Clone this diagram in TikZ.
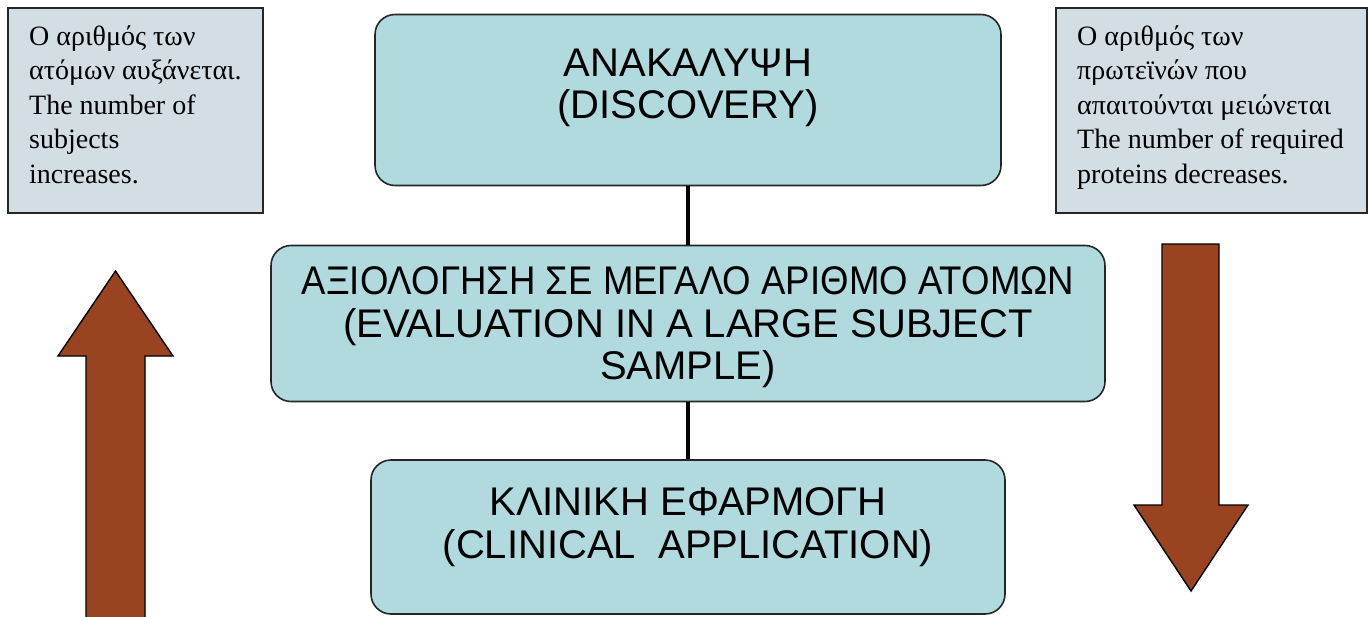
\documentclass[tikz,border=0pt]{standalone}
\usepackage{fontspec}
\setmainfont{Liberation Serif}
\newfontfamily\boxfont{Liberation Sans}
\definecolor{boxfill}{HTML}{B0DADE}
\definecolor{sidefill}{HTML}{D3DEE4}
\definecolor{arrowfill}{HTML}{9A4320}
\begin{document}
\begin{tikzpicture}[x=1pt,y=-1pt,
  stage/.style={draw=black!85, line width=1.6pt, fill=boxfill, rounded corners=20pt,
    inner sep=0pt, align=center, font=\boxfont\fontsize{40}{42.5}\selectfont},
  sidebox/.style={draw=black!85, line width=1.2pt, fill=sidefill, inner sep=0pt},
  sidetext/.style={inner sep=0pt, align=left, anchor=base west,
    font=\fontsize{28}{34.5}\selectfont},
  link/.style={draw=black, line width=4.5pt},
  bigarrow/.style={draw=black, line width=1.4pt, fill=arrowfill, line join=miter}]
\useasboundingbox (0,0) rectangle (1370,616);
\fill[white] (0,0) rectangle (1370,616);
% side boxes
\node[sidebox, minimum width=255pt, minimum height=205pt] (lbox) at (135.5,110.5) {};
\node[sidetext] (ltext) at (29,183) {Ο αριθμός των\\ατόμων αυξάνεται.\\The number of\\subjects\\increases.};
\node[sidebox, minimum width=311pt, minimum height=205pt] (rbox) at (1211.5,110.5) {};
\node[sidetext] (rtext) at (1077,183) {Ο αριθμός των\\πρωτεϊνών που\\απαιτούνται μειώνεται\\The number of required\\proteins decreases.};
% stage boxes
\node[stage, minimum width=626pt, text height=104pt, text depth=67pt] (top) at (688,100)
  {ΑΝΑΚΑΛΥΨΗ\\(DISCOVERY)};
\node[stage, minimum width=834pt, text height=134pt, text depth=22pt] (mid) at (688,323.5)
  {\scalebox{0.915}[1]{ΑΞΙΟΛΟΓΗΣΗ ΣΕ ΜΕΓΑΛΟ ΑΡΙΘΜΟ ΑΤΟΜΩΝ}\\(EVALUATION IN A LARGE SUBJECT\\SAMPLE)};
\node[stage, minimum width=634pt, text height=98pt, text depth=56pt] (bot) at (688,537)
  {ΚΛΙΝΙΚΗ ΕΦΑΡΜΟΓΗ\\(CLINICAL\ \ APPLICATION)};
\draw[link] (top.south) -- (mid.north);
\draw[link] (mid.south) -- (bot.north);
% arrows
\draw[bigarrow] (86,625) -- (86,356) -- (58,356) -- (115.5,271) -- (173,356) -- (145,356) -- (145,625);
\draw[bigarrow] (1162,244) -- (1219,244) -- (1219,505) -- (1248,505) -- (1191,591) -- (1134,505) -- (1162,505) -- cycle;
\end{tikzpicture}
\end{document}
